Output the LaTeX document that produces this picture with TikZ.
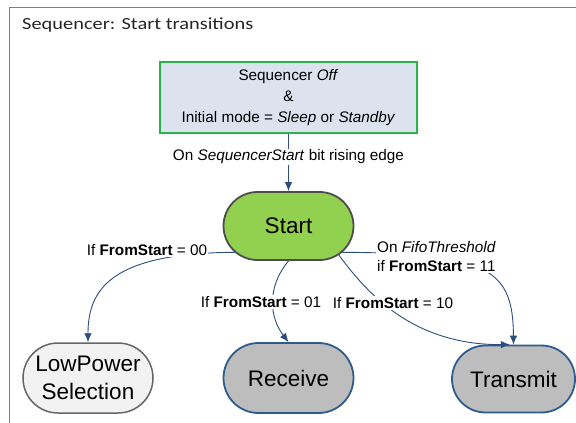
\documentclass[tikz,border=0pt]{standalone}
\usepackage{fontspec}
\setmainfont{Liberation Sans}
\newfontfamily\titlefont[FakeStretch=1.2]{Carlito}
\usetikzlibrary{arrows.meta,shapes.misc}
\definecolor{framecol}{RGB}{100,130,180}
\definecolor{edgecol}{RGB}{43,78,128}
\definecolor{topfill}{RGB}{220,227,239}
\definecolor{topdraw}{RGB}{40,180,75}
\definecolor{startfill}{RGB}{146,208,80}
\definecolor{startdraw}{RGB}{77,77,77}
\definecolor{lowfill}{RGB}{242,242,242}
\definecolor{lowdraw}{RGB}{102,102,102}
\definecolor{greyfill}{RGB}{189,189,189}
\definecolor{bluedraw}{RGB}{47,91,142}
\definecolor{titlecol}{RGB}{38,38,38}
\begin{document}
\begin{tikzpicture}[x=1pt,y=-1pt,
  edge/.style={draw=edgecol, line width=0.9pt, -{Latex[length=9pt,width=7.5pt]}},
  lbl/.style={fill=white, inner sep=1pt, font=\fontsize{15.3}{19}\selectfont},
  state/.style={rounded rectangle, minimum width=130pt, minimum height=70pt, inner sep=0pt,
    align=center, font=\fontsize{22.5}{28}\selectfont, line width=1.8pt},
  topbox/.style={draw=topdraw, fill=topfill, line width=1.3pt, minimum width=257pt,
    minimum height=71pt, inner sep=0pt, align=center, font=\fontsize{15.3}{21}\selectfont}]
\useasboundingbox (0,0) rectangle (576,423);
\fill[white] (0,0) rectangle (576,423);
\draw[framecol, line width=1.5pt] (9.5,440) -- (9.5,7.5) -- (600,7.5);
\node[anchor=base west, font=\titlefont\fontsize{17}{20}\selectfont, text=titlecol, inner sep=0pt] (title) at (22,29.5) {Sequencer: Start transitions};

\node[topbox] (top) at (288.5,97.5) {Sequencer \textit{Off}\\\&\\Initial mode = \textit{Sleep} or \textit{Standby}};
\node[state, fill=startfill, draw=startdraw, minimum height=68pt] (start) at (288.5,226) {Start};
\node[state, fill=lowfill, draw=lowdraw, line width=1.5pt] (low) at (88,378) {LowPower\\Selection};
\node[state, fill=greyfill, draw=bluedraw] (recv) at (288.5,378) {Receive};
\node[state, fill=greyfill, draw=bluedraw, minimum width=123pt, minimum height=67pt] (trans) at (513.5,379) {Transmit};

\draw[edge] (top.south) -- (start.north);
\draw[edge] (start.206) .. controls (110,253) and (88,290) .. (low.north);
\draw[edge] (start.south) .. controls (266,288) and (270,318) .. (recv.north);
\draw[edge] (start.330) .. controls (365,290) and (410,345) .. (trans.96);
\draw[edge] (start.334) .. controls (490,253) and (513,270) .. (trans.north);

\node[lbl] (l0) at (288.5,157) {On \textit{SequencerStart} bit rising edge};
\node[lbl] (l00) at (147,250) {If \textbf{FromStart} = 00};
\node[lbl] (l01) at (261,302) {If \textbf{FromStart} = 01};
\node[lbl] (l10) at (393,303) {If \textbf{FromStart} = 10};
\node[lbl, anchor=west, align=left] (l11) at (376,256.5) {On \textit{FifoThreshold}\\if \textbf{FromStart} = 11};
\end{tikzpicture}
\end{document}
